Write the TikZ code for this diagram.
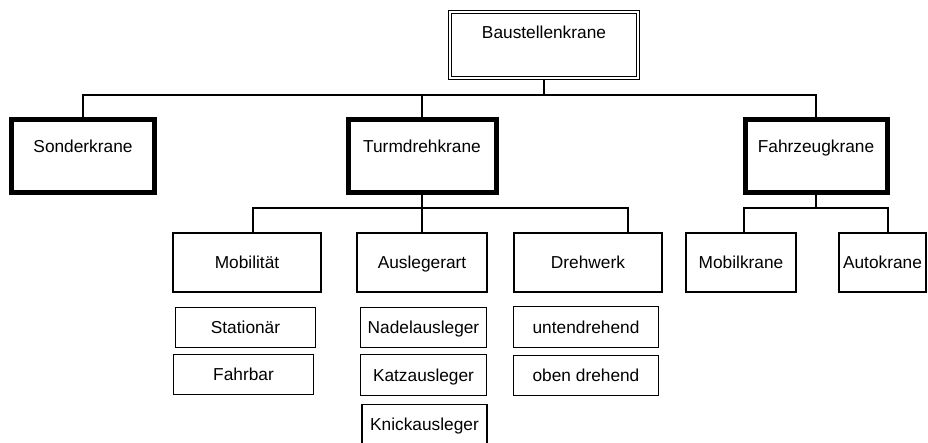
\documentclass[tikz,border=0pt]{standalone}
\usepackage{fontspec}
\setmainfont{Liberation Sans}
\usetikzlibrary{calc}
\begin{document}
\begin{tikzpicture}[x=1pt,y=-1pt,
  every node/.style={font=\fontsize{17.3pt}{20pt}\selectfont, inner sep=0pt, outer sep=0pt, align=center},
  rootbox/.style={draw, line width=1pt, double, double distance=2.2pt, text height=26.9pt, text depth=38.9pt},
  mainbox/.style={draw, line width=5pt, text height=33.5pt, text depth=39.5pt},
  groupbox/.style={draw, line width=1.7pt, text height=35.7pt, text depth=23.3pt},
  leafbox/.style={draw, line width=1.2pt, text height=26.5pt, text depth=14pt},
  conn/.style={draw, line width=1.2pt}]
\useasboundingbox (0,0) rectangle (928,443);

% root
\node[rootbox, minimum width=187.8pt] (root) at (544,45) {Baustellenkrane};

% first level
\node[mainbox, minimum width=143pt] (sonder) at (83,156) {Sonderkrane};
\node[mainbox, minimum width=148pt] (turm) at (422,156) {Turmdrehkrane};
\node[mainbox, minimum width=142pt] (fahr) at (816,156) {Fahrzeugkrane};

% second level
\node[groupbox, minimum width=148pt] (mob) at (247,262.5) {Mobilität};
\node[groupbox, minimum width=130pt] (ausl) at (422,262.5) {Auslegerart};
\node[groupbox, minimum width=148pt] (dreh) at (588,262.5) {Drehwerk};
\node[groupbox, minimum width=110pt] (mobil) at (741,262.5) {Mobilkrane};
\node[groupbox, minimum width=87pt] (auto) at (882.5,262.5) {Autokrane};

% third level
\node[leafbox, minimum width=140pt] (stat) at (245.5,327.5) {Stationär};
\node[leafbox, minimum width=140pt] (fahrb) at (243.5,374.5) {Fahrbar};
\node[leafbox, minimum width=126pt] (nadel) at (423.5,327.5) {Nadelausleger};
\node[leafbox, minimum width=126pt] (katz) at (423.5,375) {Katzausleger};
\node[leafbox, minimum width=125pt] (knick) at (424.5,424.5) {Knickausleger};
\node[leafbox, minimum width=145pt] (unten) at (586,327) {untendrehend};
\node[leafbox, minimum width=145pt] (oben) at (586,375.5) {oben drehend};

% junction levels
\coordinate (j0) at (544,95);
\coordinate (j1) at (422,208);
\coordinate (j2) at (816,208);

% root to first level
\draw[conn] ($(root.south)+(0,2.1)$) -- (j0);
\draw[conn] (sonder.north) |- (fahr.north |- j0) -- (fahr.north);
\draw[conn] (turm.north) -- (turm.north |- j0);

% Turmdrehkrane to its groups
\draw[conn] (turm.south) -- (ausl.north);
\draw[conn] ([xshift=6pt]mob.north) |- ([xshift=40pt]dreh.north |- j1) -- ([xshift=40pt]dreh.north);

% Fahrzeugkrane to its groups
\draw[conn] (fahr.south) -- (j2);
\draw[conn] ([xshift=3pt]mobil.north) |- ([xshift=5.5pt]auto.north |- j2) -- ([xshift=5.5pt]auto.north);
\end{tikzpicture}
\end{document}
